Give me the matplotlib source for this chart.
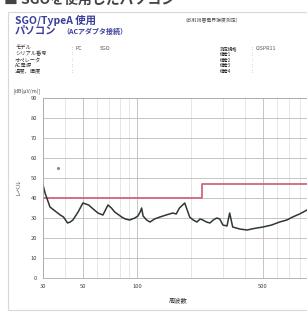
import matplotlib.pyplot as plt
from matplotlib.patches import Rectangle

plt.rcParams['font.family'] = ['Noto Sans CJK JP', 'DejaVu Sans']

# 測定データ (MHz, dB(μV/m))
freq = [30, 30.8, 32.8, 35, 37.4, 39, 41.1, 42.5, 44.0, 47, 50.0, 53.8, 57,
        60.6, 64.6, 68.9, 72, 75.1, 82.1, 86, 91.0, 97.2, 101, 104, 106, 108,
        113, 118, 125, 134, 145, 158, 165, 172, 184, 196, 205, 215, 224, 232,
        243, 254, 265, 277, 288, 300, 316, 327, 340, 372, 408, 450, 501, 560,
        620, 680, 732, 800, 880, 1000]
level = [46.5, 42.5, 35.5, 33.5, 31.5, 30.5, 27.5, 28, 29, 33, 37.5, 36.5, 34.5,
         32.5, 31.5, 36.5, 35, 33, 30.5, 29.5, 29, 30, 31, 33, 35, 31,
         29, 28, 29.5, 30.5, 31.5, 32.5, 32, 35, 37.5, 30.5, 29, 28, 29.5, 29,
         28, 27.5, 29, 30, 29.5, 26.5, 26, 32.5, 25.5, 24.5, 24, 24.8, 25.5, 26.5,
         28, 29, 30.5, 32, 34, 37]

# 限度値
limit_f = [30, 230, 230, 1000]
limit_v = [40, 40, 47, 47]

# ピーク点
peak_f = [36.5]
peak_v = [55]

yticks = [0, 10, 20, 30, 40, 50, 60, 70, 80, 90]
xticks = [30, 50, 100, 500, 1000]

left_labels = ['モデル', 'シリアル番号', 'オペレータ', 'AC電源', '温度、湿度']
right_labels = ['測定規格', '備考1', '備考2', '備考3', '備考4']

fig = plt.figure(figsize=(3.07, 3.14), dpi=100)
W, H = 307, 314

def px(x, y):
    return x / W, 1 - y / H

# 外枠
fig.patches.append(Rectangle(px(8, 310), 300 / W, 298 / H, transform=fig.transFigure,
                             fill=False, edgecolor='#d8d8d8', lw=0.8))

fig.text(*px(4, 0), '■ SGOを使用したパソコン', fontsize=10, fontweight='bold',
         color='#444444', va='center', ha='left')

blue = '#3b3f9c'
fig.text(*px(15, 20), 'SGO/TypeA 使用', fontsize=7.5, fontweight='bold',
         color=blue, va='center')
fig.text(*px(15, 31), 'パソコン', fontsize=7.5, fontweight='bold', color=blue, va='center')
fig.text(*px(62, 31), '（ACアダプタ接続）', fontsize=5, fontweight='bold', color=blue,
         va='center')
fig.text(*px(183, 21), '（放射妨害電界強度測定）', fontsize=3.5, color='#555555', va='center')

for i, lab in enumerate(left_labels):
    y = 48 + i * 5.8
    fig.text(*px(15, y), lab, fontsize=3.8, color='#333333', va='center')
    fig.text(*px(72, y), ':', fontsize=3.8, color='#666666', va='center')
fig.text(*px(76, 48), 'PC', fontsize=3.8, color='#555555', va='center')
fig.text(*px(100, 48), 'SGO', fontsize=3.8, color='#555555', va='center')

for i, lab in enumerate(right_labels):
    y = 48.5 + i * 5.8
    fig.text(*px(220, y), lab, fontsize=3.2, color='#222222', va='center')
    fig.text(*px(252, y), ':', fontsize=3.5, color='#666666', va='center')
fig.text(*px(256, 48.5), 'CISPR11', fontsize=3.8, color='#555555', va='center')

fig.text(*px(14, 92), '[dB(μV/m)]', fontsize=3.8, color='#444444', va='center')
fig.text(*px(18, 187), 'レベル', fontsize=4, color='#444444', va='center',
         ha='center', rotation=90)

ax = fig.add_axes([43 / W, 36 / H, 274 / W, 180 / H])
ax.set_xscale('log')
ax.set_xlim(30, 1000)
ax.set_ylim(0, 90)

ax.grid(True, which='major', color='#bbbbbb', lw=0.6)
ax.grid(True, which='minor', axis='x', color='#dddddd', lw=0.5)

ax.plot(limit_f, limit_v, color='#d0677e', lw=1.3)
ax.plot(freq, level, color='#2e3833', lw=1.1)
ax.plot(peak_f, peak_v, 'o', ms=1.2, color='#888888')

ax.set_xticks(xticks)
ax.set_xticklabels([str(t) for t in xticks])
ax.set_yticks(yticks)
ax.tick_params(labelsize=4.2, colors='#444444', length=0, pad=4)
ax.xaxis.set_minor_formatter(plt.NullFormatter())
ax.tick_params(which='minor', length=0)
for s in ax.spines.values():
    s.set_color('#aaaaaa')
    s.set_linewidth(0.6)

fig.text(*px(178, 300), '周波数', fontsize=4.5, color='#333333', ha='center', va='center')

fig.savefig('out.png', dpi=100)
